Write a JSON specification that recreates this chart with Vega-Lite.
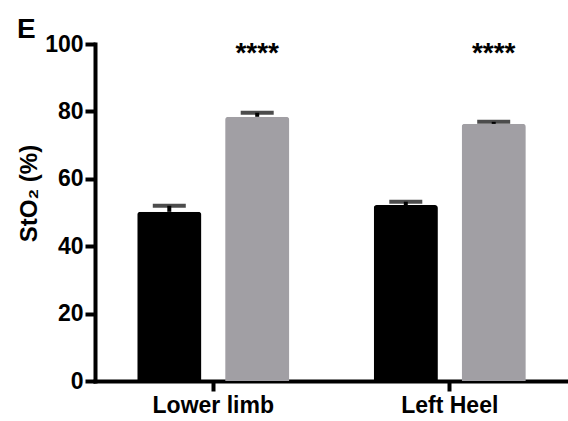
{
  "$schema": "https://vega.github.io/schema/vega-lite/v6.json",
  "width": 473,
  "height": 337,
  "autosize": {"type": "none"},
  "padding": {"left": 95, "top": 44, "right": 0, "bottom": 40},
  "background": "white",
  "title": {"text": "E", "anchor": "start", "frame": "group", "fontSize": 28, "font": "Liberation Sans", "fontWeight": "bold", "color": "black", "baseline": "alphabetic", "offset": 0, "dx": -78, "dy": 33},
  "data": {
    "values": [
      {"site": "Lower limb", "group": "Group 1", "mean": 50.2, "upper": 52.0, "sig": ""},
      {"site": "Lower limb", "group": "Group 2", "mean": 78.4, "upper": 79.6, "sig": "****"},
      {"site": "Left Heel", "group": "Group 1", "mean": 52.2, "upper": 53.2, "sig": ""},
      {"site": "Left Heel", "group": "Group 2", "mean": 76.3, "upper": 76.9, "sig": "****"}
    ]
  },
  "encoding": {
    "x": {
      "field": "site", "type": "nominal", "sort": ["Lower limb", "Left Heel"],
      "scale": {"paddingInner": 0, "paddingOuter": 0},
      "axis": {"labelAngle": 0, "labelPadding": 3, "title": null}
    },
    "xOffset": {
      "field": "group", "type": "nominal", "sort": ["Group 1", "Group 2"],
      "scale": {"paddingInner": 0.27, "paddingOuter": 0.48}
    }
  },
  "layer": [
    {
      "mark": {"type": "bar", "cornerRadiusTopLeft": 3, "cornerRadiusTopRight": 3},
      "encoding": {
        "y": {
          "field": "mean", "type": "quantitative", "title": "StO₂ (%)",
          "scale": {"domain": [0, 100], "nice": false},
          "axis": {"values": [0, 20, 40, 60, 80, 100], "labelPadding": 2, "titleFontSize": 24, "titleX": -59, "titleY": 149, "titleAngle": -90, "titleAlign": "center", "titleBaseline": "alphabetic"}
        },
        "color": {"field": "group", "type": "nominal", "scale": {"domain": ["Group 1", "Group 2"], "range": ["#000000", "#a19fa4"]}, "legend": null}
      }
    },
    {
      "mark": {"type": "rule", "strokeWidth": 4, "color": "black"},
      "encoding": {
        "y": {"field": "mean", "type": "quantitative", "title": "StO₂ (%)"},
        "y2": {"field": "upper"}
      }
    },
    {
      "mark": {"type": "tick", "thickness": 4, "size": 33, "color": "black"},
      "encoding": {
        "y": {"field": "upper", "type": "quantitative", "title": "StO₂ (%)"}
      }
    },
    {
      "transform": [{"filter": "datum.sig != ''"}],
      "mark": {"type": "text", "fontSize": 28, "fontWeight": "bold", "font": "Liberation Sans", "baseline": "alphabetic", "color": "black"},
      "encoding": {
        "y": {"datum": 94.8, "type": "quantitative", "title": "StO₂ (%)"},
        "text": {"field": "sig"}
      }
    }
  ],
  "config": {
    "view": {"stroke": null},
    "axis": {
      "grid": false,
      "domainColor": "black", "domainWidth": 4, "domainCap": "square",
      "tickColor": "black", "tickWidth": 4, "tickSize": 10,
      "labelFont": "Liberation Sans", "labelFontSize": 23, "labelFontWeight": "bold", "labelColor": "black",
      "titleFont": "Liberation Sans", "titleFontWeight": "bold", "titleColor": "black"
    }
  }
}
